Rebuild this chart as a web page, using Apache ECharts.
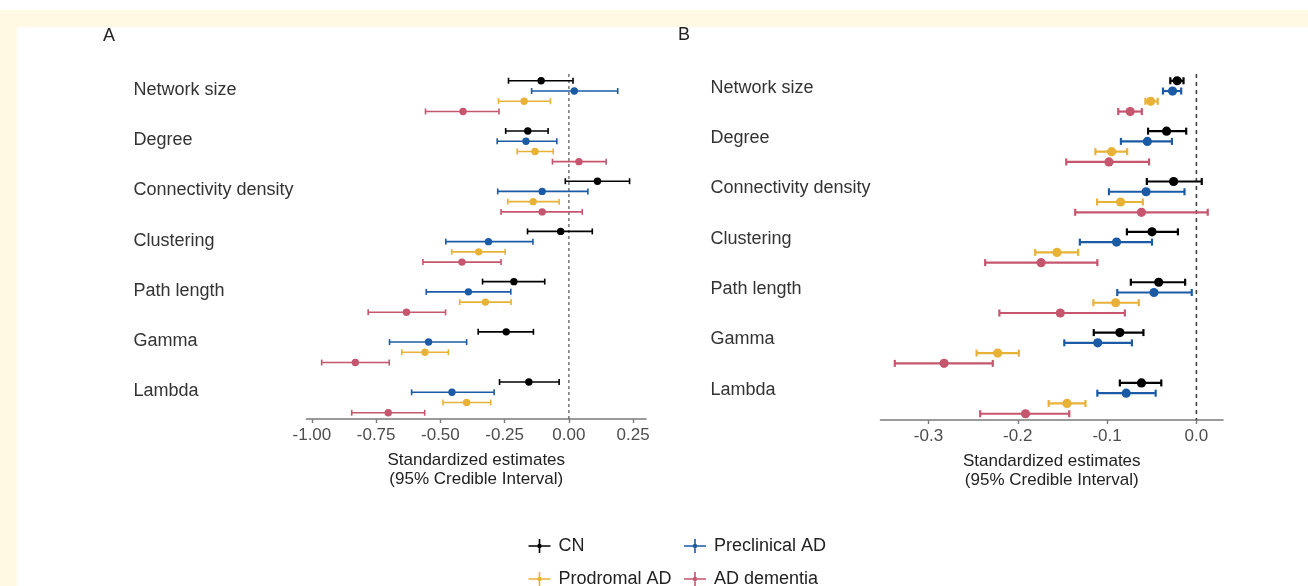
<!DOCTYPE html>
<html>
<head>
<meta charset="utf-8">
<script src="https://cdn.jsdelivr.net/npm/echarts@6/dist/echarts.min.js"></script>
<style>
  html, body { margin: 0; padding: 0; background: #fff; }
  #chart { width: 1308px; height: 586px; }
</style>
</head>
<body>
<div id="chart"></div>
<script>
var measures = ['Network size', 'Degree', 'Connectivity density', 'Clustering', 'Path length', 'Gamma', 'Lambda'];
var groups = ['CN', 'Preclinical AD', 'Prodromal AD', 'AD dementia'];
var colors = ['#000000', '#1B5BA6', '#E8B236', '#C5566D'];

// panel A: [low, estimate, high] per measure
var aCN = [[-0.235, -0.108, 0.016], [-0.246, -0.160, -0.081], [-0.014, 0.111, 0.236], [-0.161, -0.032, 0.091],
  [-0.336, -0.214, -0.094], [-0.353, -0.244, -0.138], [-0.270, -0.156, -0.038]];
var aPre = [[-0.145, 0.021, 0.190], [-0.279, -0.167, -0.047], [-0.277, -0.104, 0.074], [-0.479, -0.313, -0.140],
  [-0.555, -0.391, -0.226], [-0.698, -0.546, -0.398], [-0.612, -0.455, -0.291]];
var aPro = [[-0.274, -0.174, -0.072], [-0.201, -0.132, -0.061], [-0.238, -0.139, -0.038], [-0.456, -0.351, -0.248],
  [-0.425, -0.325, -0.225], [-0.650, -0.560, -0.469], [-0.490, -0.398, -0.304]];
var aDem = [[-0.558, -0.412, -0.272], [-0.064, 0.039, 0.145], [-0.264, -0.104, 0.052], [-0.568, -0.416, -0.264],
  [-0.781, -0.632, -0.480], [-0.962, -0.831, -0.699], [-0.845, -0.703, -0.561]];

// panel B
var bCN = [[-0.0292, -0.0215, -0.0144], [-0.0541, -0.0334, -0.0114], [-0.0555, -0.0255, 0.0060], [-0.0778, -0.0497, -0.0207],
  [-0.0734, -0.0422, -0.0126], [-0.1149, -0.0857, -0.0593], [-0.0857, -0.0615, -0.0393]];
var bPre = [[-0.0374, -0.0267, -0.0170], [-0.0845, -0.0549, -0.0274], [-0.0979, -0.0563, -0.0133], [-0.1305, -0.0894, -0.0497],
  [-0.0886, -0.0475, -0.0052], [-0.1479, -0.1105, -0.0722], [-0.1109, -0.0786, -0.0456]];
var bPro = [[-0.0571, -0.0512, -0.0433], [-0.1131, -0.0949, -0.0775], [-0.1112, -0.0849, -0.0600], [-0.1805, -0.1561, -0.1324],
  [-0.1153, -0.0904, -0.0645], [-0.2461, -0.2225, -0.1988], [-0.1654, -0.1449, -0.1242]];
var bDem = [[-0.0875, -0.0741, -0.0611], [-0.1457, -0.0979, -0.0530], [-0.1357, -0.0615, 0.0127], [-0.2365, -0.1739, -0.1109],
  [-0.2206, -0.1524, -0.0801], [-0.3377, -0.2825, -0.2280], [-0.2421, -0.1913, -0.1423]];

var aTicks = [-1, -0.75, -0.5, -0.25, 0, 0.25];
var bTicks = [-0.3, -0.2, -0.1, 0];

var dodge = 0.2037;
var yMin = -0.44, yMax = 6.43;

function toRows(arr, r) {
  return arr.map(function (d, g) {
    return [d[0], d[1], d[2], g + (r - 1.5) * dodge];
  });
}

function makeRender(color, lw, cap, rad) {
  return function (params, api) {
    var y = api.value(3);
    var lo = api.coord([api.value(0), y]);
    var mid = api.coord([api.value(1), y]);
    var hi = api.coord([api.value(2), y]);
    var st = { stroke: color, lineWidth: lw };
    return {
      type: 'group',
      children: [
        { type: 'line', shape: { x1: lo[0], y1: lo[1], x2: hi[0], y2: hi[1] }, style: st },
        { type: 'line', shape: { x1: lo[0], y1: lo[1] - cap, x2: lo[0], y2: lo[1] + cap }, style: st },
        { type: 'line', shape: { x1: hi[0], y1: hi[1] - cap, x2: hi[0], y2: hi[1] + cap }, style: st },
        { type: 'circle', shape: { cx: mid[0], cy: mid[1], r: rad }, style: { fill: color } }
      ]
    };
  };
}

var series = [];
var panels = [[aCN, aPre, aPro, aDem], [bCN, bPre, bPro, bDem]];
panels.forEach(function (sets, p) {
  series.push({
    type: 'line', xAxisIndex: p, yAxisIndex: p, silent: true, symbol: 'none',
    data: [[0, yMin], [0, yMax]],
    lineStyle: { color: '#444', width: p ? 1.6 : 1.1, type: p ? [4, 4] : [3, 3] },
    z: 1
  });
  sets.forEach(function (arr, r) {
    series.push({
      type: 'custom', name: groups[r], xAxisIndex: p, yAxisIndex: p,
      itemStyle: { color: colors[r] },
      renderItem: p ? makeRender(colors[r], 2.2, 3.5, 4.6) : makeRender(colors[r], 1.6, 3, 3.7),
      encode: { x: [0, 1, 2], y: 3 },
      data: toRows(arr, r),
      z: 2
    });
  });
});

var crossIcon = 'path://M0 6.2L22 6.2L22 7.8L0 7.8Z M10.2 0L11.8 0L11.8 14L10.2 14Z M13.2 7A2.2 2.2 0 1 1 8.8 7A2.2 2.2 0 1 1 13.2 7Z';

function legendAt(name, left, top) {
  return {
    data: [{ name: name, icon: crossIcon }],
    left: left, top: top, itemWidth: 22, itemHeight: 14,
    selectedMode: false,
    textStyle: { fontSize: 18, color: '#222', padding: [0, 0, 0, 3], fontFamily: 'Liberation Sans' }
  };
}

var axisTitle = 'Standardized estimates\n(95% Credible Interval)';

function xAxisFor(idx, min, max, ticks, digits) {
  return {
    type: 'value', gridIndex: idx, min: min, max: max,
    name: axisTitle, nameLocation: 'middle', nameGap: 32,
    nameTextStyle: { fontSize: 17, color: '#222', lineHeight: 19, fontFamily: 'Liberation Sans' },
    axisLine: { show: true, onZero: false, lineStyle: { color: '#7a7a7a', width: 1.6 } },
    axisTick: { show: true, length: 4, customValues: ticks, lineStyle: { color: '#7a7a7a', width: 1.4 } },
    axisLabel: {
      customValues: ticks, fontSize: 17, color: '#4d4d4d', margin: 8, fontFamily: 'Liberation Sans',
      formatter: function (v) { return v.toFixed(digits); }
    },
    splitLine: { show: false }
  };
}

function yAxisFor(idx, labelShift, margin) {
  return {
    type: 'value', gridIndex: idx, inverse: true, min: yMin, max: yMax,
    axisLine: { show: false }, axisTick: { show: false }, splitLine: { show: false },
    axisLabel: {
      customValues: measures.map(function (m, g) { return g + labelShift; }),
      align: 'left', margin: margin, fontSize: 18, color: '#333', fontFamily: 'Liberation Sans',
      formatter: function (v) { return measures[Math.round(v - labelShift)]; }
    }
  };
}

var chart = echarts.init(document.getElementById('chart'));
chart.setOption({
  backgroundColor: '#ffffff',
  animation: false,
  textStyle: { fontFamily: 'Liberation Sans' },
  graphic: [
    { type: 'rect', shape: { x: 0, y: 10, width: 1308, height: 17 }, style: { fill: '#FFF9E3' }, z: -10 },
    { type: 'rect', shape: { x: 0, y: 10, width: 17, height: 576 }, style: { fill: '#FFF9E3' }, z: -10 },
    { type: 'text', left: 103, top: 27, style: { text: 'A', fontSize: 18, fill: '#222', fontFamily: 'Liberation Sans' } },
    { type: 'text', left: 678, top: 26, style: { text: 'B', fontSize: 18, fill: '#222', fontFamily: 'Liberation Sans' } }
  ],
  grid: [
    { left: 306.5, top: 74, width: 339.5, height: 345 },
    { left: 880.5, top: 74, width: 342.5, height: 346 }
  ],
  xAxis: [
    xAxisFor(0, -1.021, 0.30, aTicks, 2),
    xAxisFor(1, -0.3537, 0.0298, bTicks, 1)
  ],
  yAxis: [
    yAxisFor(0, -0.123, 173),
    yAxisFor(1, -0.17, 170)
  ],
  legend: [
    legendAt('CN', 523.5, 532),
    legendAt('Preclinical AD', 679, 532),
    legendAt('Prodromal AD', 523.5, 565),
    legendAt('AD dementia', 679, 565)
  ],
  series: series
});
</script>
</body>
</html>
